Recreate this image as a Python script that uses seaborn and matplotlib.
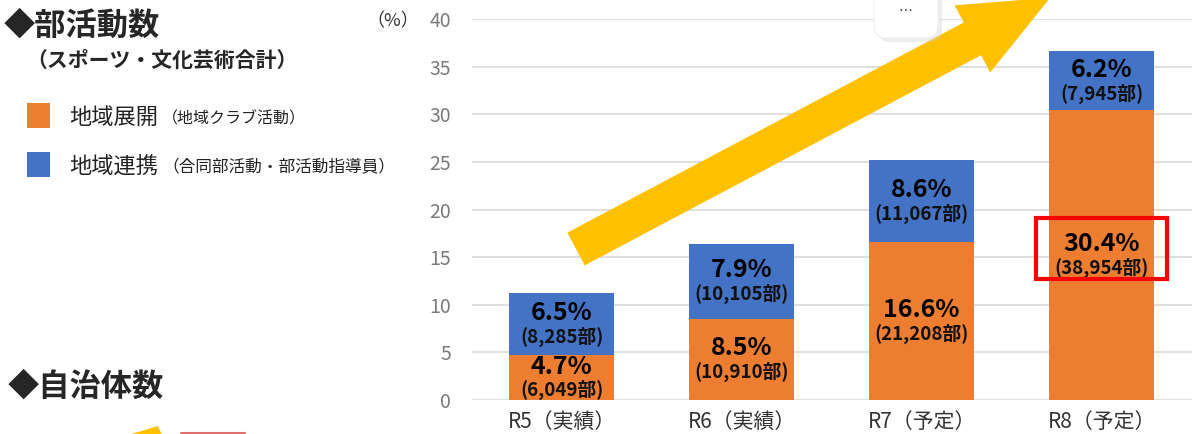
import pandas as pd
import matplotlib.pyplot as plt
import seaborn as sns
from matplotlib.patches import FancyArrow, Rectangle, FancyBboxPatch, Polygon

# data
years = ["R5（実績）", "R6（実績）", "R7（予定）", "R8（予定）"]
tenkai_pct = [4.7, 8.5, 16.6, 30.4]        # 地域展開（地域クラブ活動）
tenkai_count = [6049, 10910, 21208, 38954]
renkei_pct = [6.5, 7.9, 8.6, 6.2]          # 地域連携（合同部活動・部活動指導員）
renkei_count = [8285, 10105, 11067, 7945]
yticks = [0, 5, 10, 15, 20, 25, 30, 35, 40]

ORANGE = "#ED7D31"
BLUE = "#4472C4"
YELLOW = "#FFC000"

sns.set_style("white")
plt.rcParams['font.family'] = ['Noto Sans CJK JP', 'DejaVu Sans']

df = pd.DataFrame({
    "year": years,
    "tenkai": tenkai_pct,
    "renkei": renkei_pct,
})
df["total"] = df["tenkai"] + df["renkei"]

fig = plt.figure(figsize=(12, 4.34), dpi=100)
ax = fig.add_axes([0.393, 0.0783, 0.6, 0.8779])

# stacked bars: total in blue, orange drawn over the bottom part
sns.barplot(data=df, x="year", y="total", color=BLUE, saturation=1,
            width=0.583, ax=ax, zorder=2, edgecolor="none", linewidth=0)
sns.barplot(data=df, x="year", y="tenkai", color=ORANGE, saturation=1,
            width=0.583, ax=ax, zorder=3, edgecolor="none", linewidth=0)

ax.set_ylim(0, 40)
ax.set_xlim(-0.5, 3.5)
ax.set_yticks(yticks)
ax.yaxis.grid(True, color="#d9d9d9", linewidth=1.2)
ax.set_axisbelow(True)
ax.set_xlabel("")
ax.set_ylabel("")
for s in ax.spines.values():
    s.set_visible(False)
ax.tick_params(axis="y", length=0, labelsize=14, labelcolor="#7a7a7a", pad=15)
ax.tick_params(axis="x", length=0, labelsize=15, labelcolor="#333333", pad=8)

# segment labels
def seg_label(x, mid, pct, count):
    ax.annotate(f"{pct:.1f}%", (x, mid), xytext=(0, 8), textcoords="offset points",
                ha="center", va="center", fontsize=18, fontweight="bold",
                color="black", zorder=5)
    ax.annotate(f"({count:,}部)", (x, mid), xytext=(0, -9), textcoords="offset points",
                ha="center", va="center", fontsize=13.5, fontweight="bold",
                color="#111111", zorder=5)

for i in range(len(years)):
    seg_label(i, tenkai_pct[i] / 2, tenkai_pct[i], tenkai_count[i])
    seg_label(i, tenkai_pct[i] + renkei_pct[i] / 2, renkei_pct[i], renkei_count[i])

# red highlight around the R8 orange label
mid8 = tenkai_pct[3] / 2
ax.add_patch(Rectangle((3 - 0.365, mid8 - 2.5), 0.73, 6.4, fill=False,
                       edgecolor="#FF0000", linewidth=3, zorder=6))

# overlay in pixel coordinates for the decorations and left-side texts
ov = fig.add_axes([0, 0, 1, 1], facecolor="none")
ov.set_xlim(0, 1200)
ov.set_ylim(434, 0)
ov.axis("off")

ov.add_patch(FancyArrow(576, 249, 537 * 0.883, -537 * 0.468, width=37,
                        head_width=76, head_length=88, length_includes_head=True,
                        color=YELLOW, linewidth=0))

# "..." popup box at the top
ov.add_patch(FancyBboxPatch((878, -16), 64, 58, boxstyle="round,pad=0,rounding_size=12",
                            facecolor="#cccccc", edgecolor="none", alpha=0.35))
ov.add_patch(FancyBboxPatch((874, -20), 64, 58, boxstyle="round,pad=0,rounding_size=12",
                            facecolor="white", edgecolor="#eeeeee", linewidth=0.8))
ov.text(906, 12, "…", ha="center", va="center", fontsize=10, color="#333333")

# fragments of the next panel at the bottom left
ov.add_patch(Polygon([(128, 435), (158, 426), (162, 435)], closed=True,
                     facecolor=YELLOW, edgecolor="none"))
ov.plot([181, 245], [433, 433], color="#e07070", linewidth=1.5)

ov.text(4, 26, "◆部活動数", fontsize=22.5, fontweight="bold", va="center", ha="left")
ov.text(26, 60, "（スポーツ・文化芸術合計）", fontsize=15, fontweight="bold",
        va="center", ha="left")
ov.text(393, 21, "（%）", fontsize=13, va="center", ha="center", color="#333333")

ov.add_patch(Rectangle((27, 103), 23, 25, facecolor=ORANGE, edgecolor="none"))
ov.add_patch(Rectangle((27, 152), 23, 25, facecolor=BLUE, edgecolor="none"))
ov.text(69, 117, "地域展開", fontsize=16, va="center", ha="left", color="#222222")
ov.text(162, 119, "（地域クラブ活動）", fontsize=11.5, va="center", ha="left",
        color="#222222")
ov.text(69, 166, "地域連携", fontsize=16, va="center", ha="left", color="#222222")
ov.text(162, 168, "（合同部活動・部活動指導員）", fontsize=12, va="center", ha="left",
        color="#222222")

ov.text(8, 387, "◆自治体数", fontsize=22.5, fontweight="bold", va="center", ha="left")

plt.savefig("out.png", dpi=100)
